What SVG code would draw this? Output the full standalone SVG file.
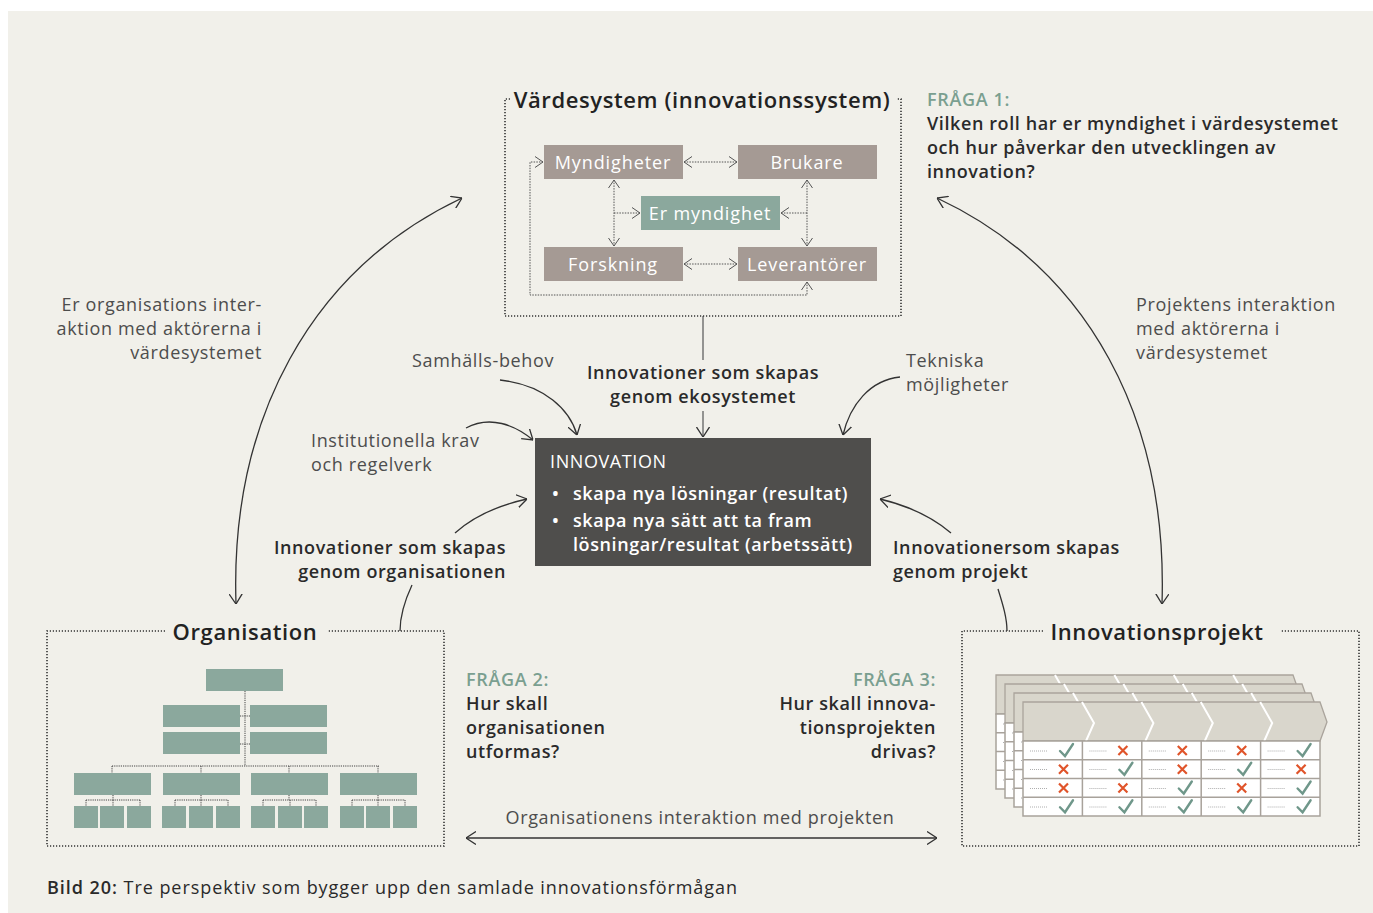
<svg xmlns="http://www.w3.org/2000/svg" width="1373" height="913" viewBox="0 0 1373 913">
<style>
text{font-family:"Open Sans","Noto Sans","DejaVu Sans",sans-serif}
.t{font-size:18px;fill:#4d4d4d;font-weight:400;letter-spacing:0.65px}
.b{font-size:18px;fill:#2a2a2a;font-weight:600;letter-spacing:0.6px}
.q{font-size:18px;fill:#7a9f90;font-weight:600;letter-spacing:0.65px}
.h{font-size:22px;fill:#222;font-weight:600;letter-spacing:0.6px}
.w{font-size:18px;fill:#fff;font-weight:400;letter-spacing:0.9px}
.wb{font-size:18px;fill:#fff;font-weight:600;letter-spacing:0.6px}
.c{text-anchor:middle}
.e{text-anchor:end}
.dot{fill:none;stroke:#333;stroke-width:1.6;stroke-dasharray:1.2 1.8}
.dc{fill:none;stroke:#555;stroke-width:1;stroke-dasharray:1.5 1.2}
.ln{fill:none;stroke:#333;stroke-width:1.3}
.gb{fill:#a59a94}
.gg{fill:#8ba89d}
.oc{fill:none;stroke:#444;stroke-width:1;stroke-dasharray:1.2 1}
.ck{fill:none;stroke:#6f978a;stroke-width:2.4;stroke-linecap:round}
.xx{fill:none;stroke:#e0542a;stroke-width:2.2}
</style>
<defs>
<marker id="ah" viewBox="0 0 10 14" refX="10" refY="7" markerWidth="10" markerHeight="14" markerUnits="userSpaceOnUse" orient="auto-start-reverse"><path d="M0,0.5 L10,7 L0,13.5" fill="none" stroke="#333" stroke-width="1.3"/></marker>
<marker id="as" viewBox="0 0 8 12" refX="8" refY="6" markerWidth="8" markerHeight="12" markerUnits="userSpaceOnUse" orient="auto-start-reverse"><path d="M0,0.5 L8,6 L0,11.5" fill="none" stroke="#555" stroke-width="1"/></marker>
<g id="layer">
<path d="M0,0 H297 L304,20 L297,39 H0 Z" fill="#d9d6cc" stroke="#aaa49c" stroke-width="1.3"/>
<path d="M59,0 L71,21 L63,39 M118.4,0 L130.4,21 L122.4,39 M177.8,0 L189.8,21 L181.8,39 M237.2,0 L249.2,21 L241.2,39" fill="none" stroke="#fff" stroke-width="2"/>
<rect x="0" y="39" width="297" height="75" fill="#fff" stroke="#a8a29b" stroke-width="1.5"/>
<path d="M0,57.75 H297 M0,76.5 H297 M0,95.25 H297 M59.4,39 V114 M118.8,39 V114 M178.2,39 V114 M237.6,39 V114" stroke="#a8a29b" stroke-width="1.5"/>
<path d="M7,49 H25 M7,67.5 H25 M7,86.5 H25 M7,105 H25 M66.4,49 H84.4 M66.4,67.5 H84.4 M66.4,86.5 H84.4 M66.4,105 H84.4 M125.8,49 H143.8 M125.8,67.5 H143.8 M125.8,86.5 H143.8 M125.8,105 H143.8 M185.2,49 H203.2 M185.2,67.5 H203.2 M185.2,86.5 H203.2 M185.2,105 H203.2 M244.6,49 H262.6 M244.6,67.5 H262.6 M244.6,86.5 H262.6 M244.6,105 H262.6" stroke="#999" stroke-width="0.8" stroke-dasharray="1 1"/>
</g>
<path id="ckm" class="ck" d="M0,6 L5,11 L13,-1"/>
<path id="xm" class="xx" d="M0,0 L9,9 M9,0 L0,9"/>
</defs>

<rect x="8" y="11" width="1365" height="902" fill="#f1f0ea"/>

<g id="connectors">
<path class="ln" d="M236,604 C230,420 310,270 462,198" marker-start="url(#ah)" marker-end="url(#ah)"/>
<path class="ln" d="M937,198 C1090,270 1168,420 1162,604" marker-start="url(#ah)" marker-end="url(#ah)"/>
<path class="ln" d="M466,838 H937" marker-start="url(#ah)" marker-end="url(#ah)"/>
<path d="M703,316 V360" fill="none" stroke="#555" stroke-width="1.2"/>
<path d="M703,411 V437" fill="none" stroke="#555" stroke-width="1.2" marker-end="url(#ah)"/>
<path class="ln" d="M500,380 C545,385 570,410 577,435" marker-end="url(#ah)"/>
<path class="ln" d="M466,428 C490,415 515,425 533,440" marker-end="url(#ah)"/>
<path class="ln" d="M900,377 C870,380 850,405 843,435" marker-end="url(#ah)"/>
<path class="ln" d="M455,533 C475,515 500,505 527,499" marker-end="url(#ah)"/>
<path class="ln" d="M951,533 C930,515 905,505 880,499" marker-end="url(#ah)"/>
<path class="ln" d="M412,585 C405,600 400,615 400,631"/>
<path class="ln" d="M998,589 C1003,605 1007,618 1007,631"/>
<path class="dc" d="M684,162 H737" marker-start="url(#as)" marker-end="url(#as)"/>
<path class="dc" d="M684,264 H737" marker-start="url(#as)" marker-end="url(#as)"/>
<path class="dc" d="M614,180 V246" marker-start="url(#as)" marker-end="url(#as)"/>
<path class="dc" d="M807,180 V246" marker-start="url(#as)" marker-end="url(#as)"/>
<path class="dc" d="M614,213 H640" marker-end="url(#as)"/>
<path class="dc" d="M807,213 H781" marker-end="url(#as)"/>
<path class="dc" d="M807,282 V295 H530 V162 H543" marker-start="url(#as)" marker-end="url(#as)"/>
</g>

<g id="vardesystem">
<path class="dot" d="M510,99 H505 V316 H901 V99 H897"/>
<text class="h c" x="702" y="108">Värdesystem (innovationssystem)</text>
</g>
<g id="myndigheter"><rect class="gb" x="544" y="145" width="139" height="34"/><text class="w c" x="613" y="169">Myndigheter</text></g>
<g id="brukare"><rect class="gb" x="738" y="145" width="139" height="34"/><text class="w c" x="807" y="169">Brukare</text></g>
<g id="er-myndighet"><rect class="gg" x="641" y="196" width="139" height="34"/><text class="w c" x="710" y="220">Er myndighet</text></g>
<g id="forskning"><rect class="gb" x="544" y="247" width="139" height="34"/><text class="w c" x="613" y="271">Forskning</text></g>
<g id="leverantorer"><rect class="gb" x="738" y="247" width="139" height="34"/><text class="w c" x="807" y="271">Leverantörer</text></g>

<g id="fraga1">
<text class="q" x="927" y="106">FRÅGA 1:</text>
<text class="b" x="927" y="130">Vilken roll har er myndighet i värdesystemet</text>
<text class="b" x="927" y="154">och hur påverkar den utvecklingen av</text>
<text class="b" x="927" y="178">innovation?</text>
</g>

<g id="labels">
<text class="t e" x="262" y="311">Er organisations inter-</text>
<text class="t e" x="262" y="335">aktion med aktörerna i</text>
<text class="t e" x="262" y="359">värdesystemet</text>
<text class="t" x="1136" y="311">Projektens interaktion</text>
<text class="t" x="1136" y="335">med aktörerna i</text>
<text class="t" x="1136" y="359">värdesystemet</text>
<text class="t" x="412" y="367">Samhälls-behov</text>
<text class="b c" x="703" y="379">Innovationer som skapas</text>
<text class="b c" x="703" y="403">genom ekosystemet</text>
<text class="t" x="906" y="367">Tekniska</text>
<text class="t" x="906" y="391">möjligheter</text>
<text class="t" x="311" y="447">Institutionella krav</text>
<text class="t" x="311" y="471">och regelverk</text>
<text class="b e" x="506" y="554">Innovationer som skapas</text>
<text class="b e" x="506" y="578">genom organisationen</text>
<text class="b" x="893" y="554">Innovationersom skapas</text>
<text class="b" x="893" y="578">genom projekt</text>
<text class="t c" x="700" y="824">Organisationens interaktion med projekten</text>
</g>

<g id="innovation">
<rect x="535" y="438" width="336" height="128" fill="#4f4e4c"/>
<text class="wb" x="550" y="468" style="font-weight:500">INNOVATION</text>
<text class="wb" x="552" y="500">•</text>
<text class="wb" x="573" y="500">skapa nya lösningar (resultat)</text>
<text class="wb" x="552" y="527">•</text>
<text class="wb" x="573" y="527">skapa nya sätt att ta fram</text>
<text class="wb" x="573" y="551">lösningar/resultat (arbetssätt)</text>
</g>

<g id="organisation">
<path class="dot" d="M165,631 H47 V846 H444 V631 H327"/>
<text class="h c" x="245" y="640">Organisation</text>
<path class="oc" d="M245,691 V766 M240,716 H250 M240,744 H250 M112,766 H379 M112,766 V773 M201,766 V773 M289,766 V773 M378,766 V773 M86,800 H140 M113,795 V800 M86,800 V806 M113,800 V806 M140,800 V806 M175,800 H228 M201,795 V800 M175,800 V806 M201,800 V806 M228,800 V806 M263,800 H316 M289,795 V800 M263,800 V806 M290,800 V806 M316,800 V806 M352,800 H405 M378,795 V800 M352,800 V806 M378,800 V806 M405,800 V806"/>
<rect class="gg" x="206" y="669" width="77" height="22"/>
<rect class="gg" x="163" y="705" width="77" height="22"/>
<rect class="gg" x="250" y="705" width="77" height="22"/>
<rect class="gg" x="163" y="732" width="77" height="22"/>
<rect class="gg" x="250" y="732" width="77" height="22"/>
<rect class="gg" x="74" y="773" width="77" height="22"/>
<rect class="gg" x="163" y="773" width="77" height="22"/>
<rect class="gg" x="251" y="773" width="77" height="22"/>
<rect class="gg" x="340" y="773" width="77" height="22"/>
<rect class="gg" x="74" y="806" width="24" height="22"/>
<rect class="gg" x="100" y="806" width="24" height="22"/>
<rect class="gg" x="127" y="806" width="24" height="22"/>
<rect class="gg" x="162" y="806" width="24" height="22"/>
<rect class="gg" x="189" y="806" width="24" height="22"/>
<rect class="gg" x="216" y="806" width="24" height="22"/>
<rect class="gg" x="251" y="806" width="24" height="22"/>
<rect class="gg" x="278" y="806" width="24" height="22"/>
<rect class="gg" x="304" y="806" width="24" height="22"/>
<rect class="gg" x="340" y="806" width="24" height="22"/>
<rect class="gg" x="366" y="806" width="24" height="22"/>
<rect class="gg" x="393" y="806" width="24" height="22"/>
</g>

<g id="fraga2">
<text class="q" x="466" y="686">FRÅGA 2:</text>
<text class="b" x="466" y="710">Hur skall</text>
<text class="b" x="466" y="734">organisationen</text>
<text class="b" x="466" y="758">utformas?</text>
</g>
<g id="fraga3">
<text class="q e" x="936" y="686">FRÅGA 3:</text>
<text class="b e" x="936" y="710">Hur skall innova-</text>
<text class="b e" x="936" y="734">tionsprojekten</text>
<text class="b e" x="936" y="758">drivas?</text>
</g>

<g id="innovationsprojekt">
<path class="dot" d="M1043,631 H962 V846 H1359 V631 H1280"/>
<text class="h c" x="1157" y="640">Innovationsprojekt</text>
<use href="#layer" x="996" y="675"/>
<use href="#layer" x="1005" y="684"/>
<use href="#layer" x="1014" y="693"/>
<use href="#layer" x="1023" y="702"/>
<use href="#ckm" x="1060" y="745"/><use href="#xm" x="1118.4" y="746"/><use href="#xm" x="1177.8" y="746"/><use href="#xm" x="1237.2" y="746"/><use href="#ckm" x="1297.6" y="745"/>
<use href="#xm" x="1059" y="764.75"/><use href="#ckm" x="1119.4" y="763.75"/><use href="#xm" x="1177.8" y="764.75"/><use href="#ckm" x="1238.2" y="763.75"/><use href="#xm" x="1296.6" y="764.75"/>
<use href="#xm" x="1059" y="783.5"/><use href="#xm" x="1118.4" y="783.5"/><use href="#ckm" x="1178.8" y="782.5"/><use href="#xm" x="1237.2" y="783.5"/><use href="#ckm" x="1297.6" y="782.5"/>
<use href="#ckm" x="1060" y="801.25"/><use href="#ckm" x="1119.4" y="801.25"/><use href="#ckm" x="1178.8" y="801.25"/><use href="#ckm" x="1238.2" y="801.25"/><use href="#ckm" x="1297.6" y="801.25"/>
</g>

<g id="caption">
<text class="t" x="47" y="894" style="fill:#2a2a2a;letter-spacing:0.95px"><tspan style="font-weight:600">Bild 20:</tspan> Tre perspektiv som bygger upp den samlade innovationsförmågan</text>
</g>
</svg>
